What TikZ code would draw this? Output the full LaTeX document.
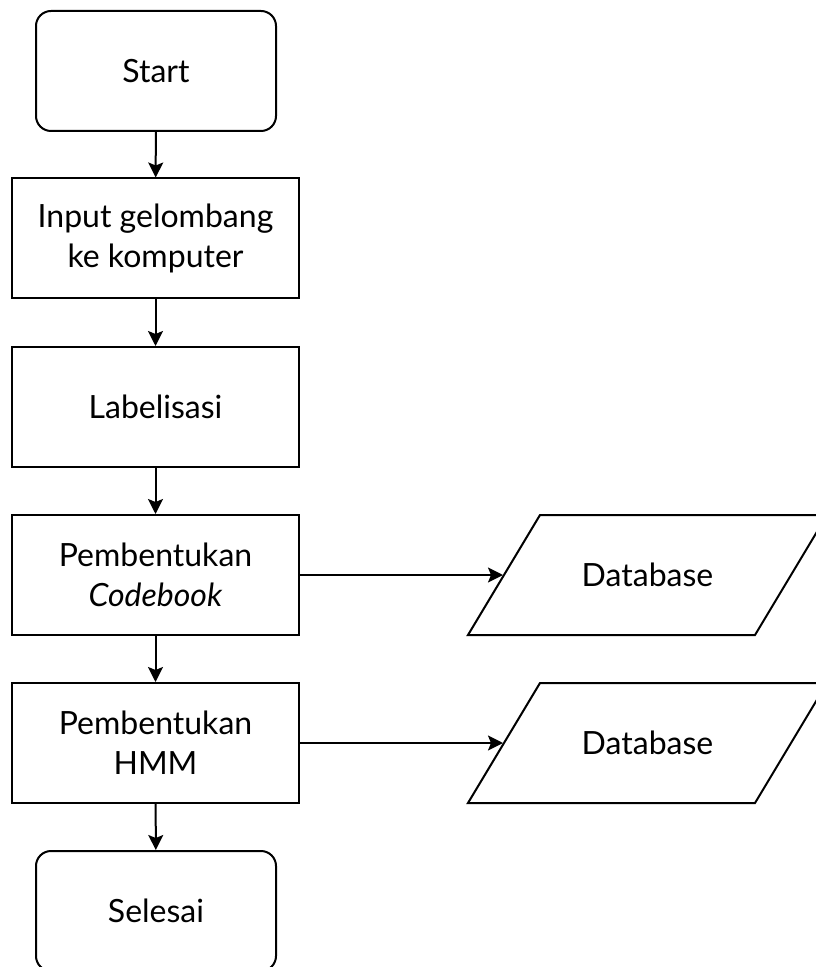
\documentclass[tikz,border=0pt]{standalone}
\usepackage{fontspec}
\setmainfont{Lato}
\usepackage{tikz}
\usetikzlibrary{arrows.meta}
\tikzstyle{terminal}=[draw,rounded corners=7.5pt,minimum width=120pt,minimum height=60pt,inner sep=0pt,align=center]
\tikzstyle{process}=[draw,minimum width=143.5pt,minimum height=60pt,inner sep=0pt,align=center]
\tikzstyle{data}=[draw,xslant=0.6,transform shape,minimum width=143.5pt,minimum height=60pt,inner sep=0pt]
\tikzstyle{flow}=[-{Stealth[length=7.5pt,width=7.5pt,inset=1.5pt]}]

\begin{document}
\begin{tikzpicture}[x=0.5pt,y=-0.5pt,line width=1pt,font=\fontsize{16}{20}\selectfont]
      \useasboundingbox (0,0) rectangle (815,967);
      \node[terminal] (start) at (156, 71) {Start};
      \node[process] (input) at (155.5, 238.5) {Input gelombang\\ke komputer};
      \node[process] (lbl) at (155.5, 407) {Labelisasi};
      \node[process] (cb) at (155.5, 575) {Pembentukan\\\textit{Codebook}};
      \node[process] (hmm) at (155.5, 743) {Pembentukan\\HMM};
      \node[terminal] (stop) at (156, 911) {Selesai};
      \node[data] (db1) at (647.5, 575) {};
      \node (db1txt) at (db1) {Database};
      \node[data] (db2) at (647.5, 743) {};
      \node (db2txt) at (db2) {Database};
      \draw[flow] (start) -- (input);
      \draw[flow] (input) -- (lbl);
      \draw[flow] (lbl) -- (cb);
      \draw[flow] (cb) -- (hmm);
      \draw[flow] (hmm) -- (stop);
      \draw[flow] (cb.east) -- (db1.west);
      \draw[flow] (hmm.east) -- (db2.west);
    \end{tikzpicture}
\end{document}
